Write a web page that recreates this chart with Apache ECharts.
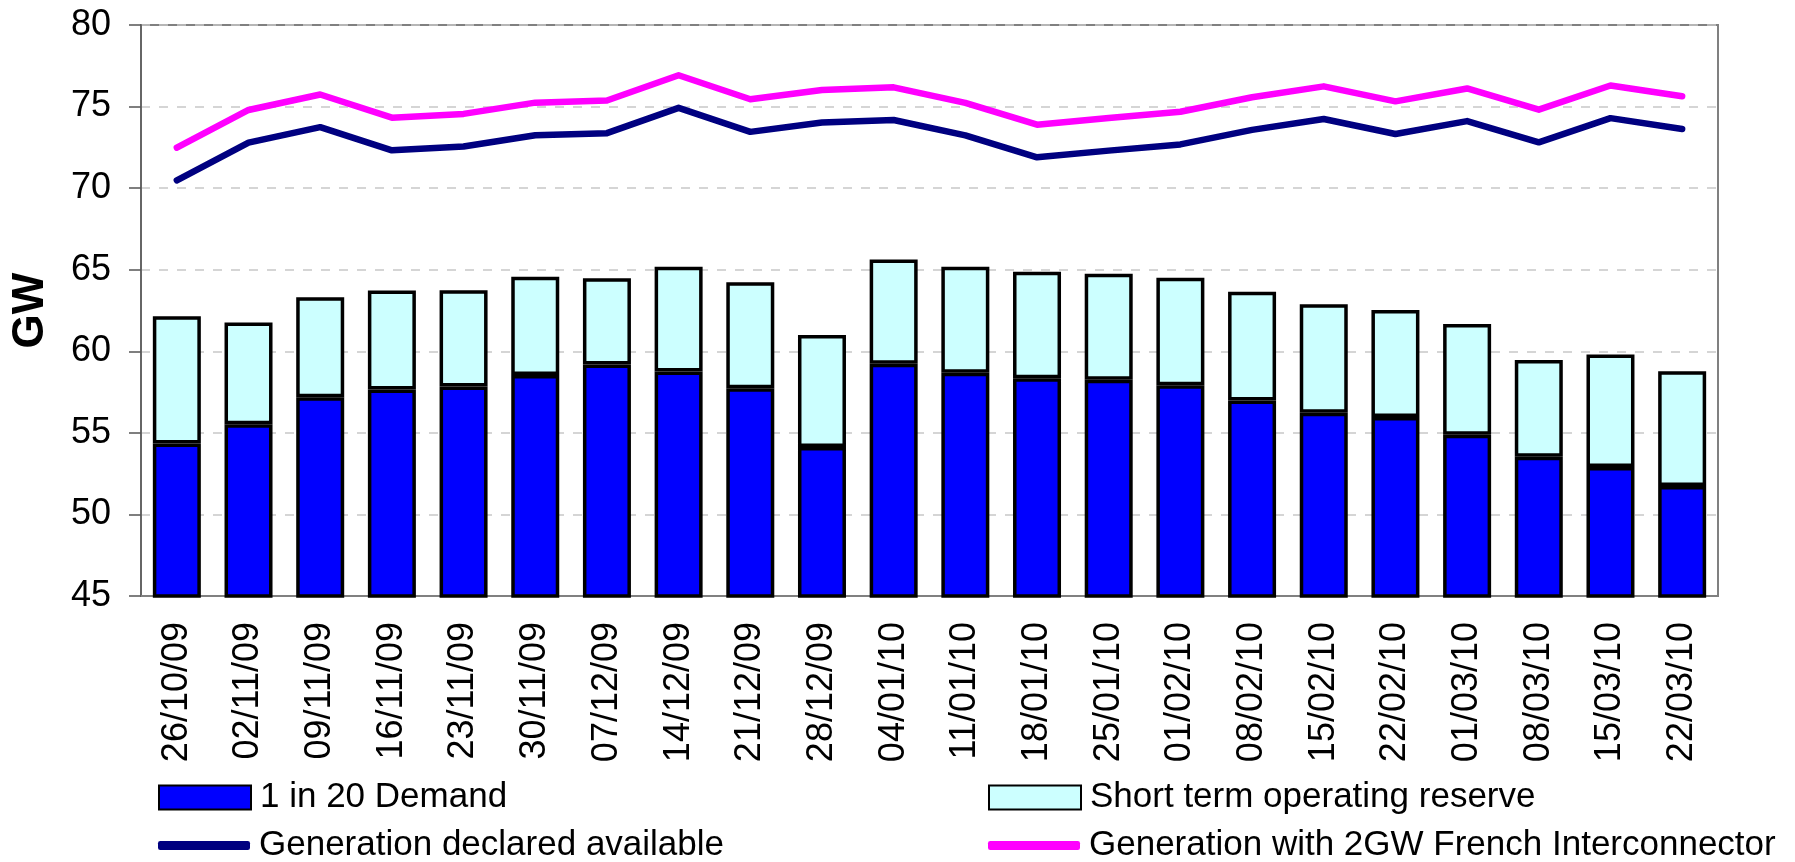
<!DOCTYPE html>
<html>
<head>
<meta charset="utf-8">
<script src="https://cdn.jsdelivr.net/npm/echarts@6/dist/echarts.min.js"></script>
<style>
  html, body { margin: 0; padding: 0; background: #fff; }
  #main { width: 1795px; height: 862px; }
</style>
</head>
<body>
<div id="main"></div>
<script>
// week commencing
const weeks = ['26/10/09', '02/11/09', '09/11/09', '16/11/09', '23/11/09', '30/11/09', '07/12/09',
  '14/12/09', '21/12/09', '28/12/09', '04/01/10', '11/01/10', '18/01/10', '25/01/10', '01/02/10',
  '08/02/10', '15/02/10', '22/02/10', '01/03/10', '08/03/10', '15/03/10', '22/03/10'];

// GW
const demand = [54.34, 55.52, 57.19, 57.66, 57.84, 58.55, 59.19, 58.76, 57.74, 54.13, 59.23,
  58.68, 58.35, 58.25, 57.92, 56.99, 56.23, 55.97, 54.89, 53.53, 52.91, 51.75];
const reserve = [7.80, 6.25, 6.12, 6.06, 5.90, 6.02, 5.28, 6.42, 6.49, 6.87, 6.40,
  6.50, 6.53, 6.51, 6.59, 6.66, 6.66, 6.56, 6.78, 5.94, 6.89, 7.03];
const genDeclared = [70.48, 72.79, 73.74, 72.32, 72.55, 73.24, 73.37, 74.92, 73.45, 74.02, 74.18,
  73.23, 71.89, 72.30, 72.68, 73.57, 74.24, 73.32, 74.11, 72.81, 74.29, 73.63];
const genFrench = [72.48, 74.79, 75.74, 74.32, 74.55, 75.24, 75.37, 76.92, 75.45, 76.02, 76.18,
  75.23, 73.89, 74.30, 74.68, 75.57, 76.24, 75.32, 76.11, 74.81, 76.29, 75.63];

const yTicks = { min: 45, max: 80, step: 5 };

const font = "'Liberation Sans', Arial, sans-serif";

const chart = echarts.init(document.getElementById('main'));

const legendBase = {
  orient: 'horizontal',
  itemWidth: 92,
  itemGap: 0,
  selectedMode: false,
  textStyle: { fontFamily: font, fontSize: 35, color: '#000', padding: [0, 0, 0, 4] }
};

const option = {
  animation: false,
  backgroundColor: '#fff',
  grid: {
    left: 141, right: 77, top: 25, bottom: 266,
    show: true, borderColor: '#808080', borderWidth: 2
  },
  legend: [
    Object.assign({}, legendBase, { data: ['1 in 20 Demand'], left: 153, top: 775, itemHeight: 24, icon: 'rect' }),
    Object.assign({}, legendBase, { data: ['Short term operating reserve'], left: 983, top: 775, itemHeight: 24, icon: 'rect' }),
    Object.assign({}, legendBase, { data: ['Generation declared available'], left: 153, top: 823, itemHeight: 9, icon: 'roundRect' }),
    Object.assign({}, legendBase, { data: ['Generation with 2GW French Interconnector'], left: 983, top: 823, itemHeight: 9, icon: 'roundRect' })
  ],
  xAxis: {
    type: 'category',
    data: weeks,
    axisLine: { show: true, lineStyle: { color: '#808080', width: 2 } },
    axisTick: { show: false },
    axisLabel: { rotate: 90, margin: 26, fontFamily: font, fontSize: 36, color: '#000' }
  },
  yAxis: {
    type: 'value',
    min: yTicks.min,
    max: yTicks.max,
    interval: yTicks.step,
    name: 'GW',
    nameLocation: 'middle',
    nameRotate: 90,
    nameGap: 88,
    nameTextStyle: { fontFamily: font, fontSize: 44, fontWeight: 'bold', color: '#000' },
    axisLine: { show: true, lineStyle: { color: '#666', width: 2 } },
    axisTick: { show: true, length: 12, lineStyle: { color: '#555', width: 1.5 } },
    axisLabel: { margin: 30, fontFamily: font, fontSize: 36, color: '#000' },
    splitLine: { show: true, lineStyle: { color: '#c8c8c8', type: [9, 9], width: 1.5 } }
  },
  series: [
    {
      name: '1 in 20 Demand',
      type: 'bar',
      stack: 'total',
      barWidth: 48,
      data: demand,
      itemStyle: { color: '#0000ff', borderColor: '#000', borderWidth: 3.5 }
    },
    {
      name: 'Short term operating reserve',
      type: 'bar',
      stack: 'total',
      barWidth: 48,
      data: reserve,
      itemStyle: { color: '#ccffff', borderColor: '#000', borderWidth: 3.5 }
    },
    {
      name: 'Generation declared available',
      type: 'line',
      data: genDeclared,
      symbol: 'none',
      z: 5,
      itemStyle: { color: '#000080' },
      lineStyle: { color: '#000080', width: 6.5, cap: 'round', join: 'round' }
    },
    {
      name: 'Generation with 2GW French Interconnector',
      type: 'line',
      data: genFrench,
      symbol: 'none',
      z: 5,
      itemStyle: { color: '#ff00ff' },
      lineStyle: { color: '#ff00ff', width: 6.5, cap: 'round', join: 'round' }
    }
  ]
};

chart.setOption(option);
</script>
</body>
</html>
